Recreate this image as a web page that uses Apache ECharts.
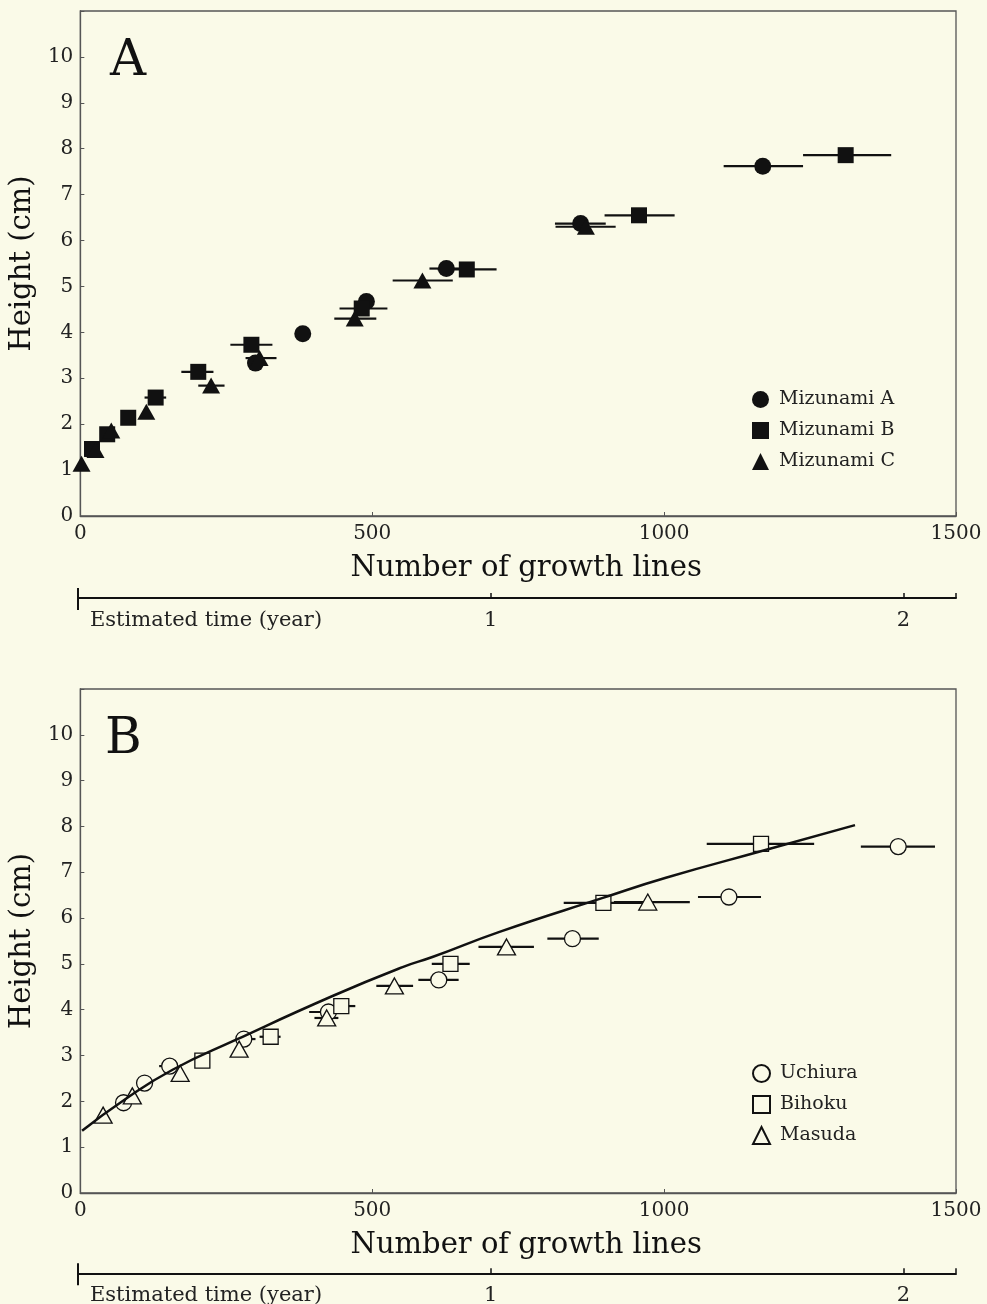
<!DOCTYPE html>
<html>
<head>
<meta charset="utf-8">
<script src="https://cdn.jsdelivr.net/npm/echarts@6/dist/echarts.min.js"></script>
<style>
html,body{margin:0;padding:0;background:#FAFAE8;}
#c{width:987px;height:1304px;}
</style>
</head>
<body>
<div id="c"></div>
<script>
// ---------- tick labels / axis ranges ----------
const xTicks = [0, 500, 1000, 1500];
const yTicks = [0, 1, 2, 3, 4, 5, 6, 7, 8, 9, 10];
const yMax = 11;
const linesPerYear = 705;          // growth lines per estimated year (read from year scale)
const yearTicks = [1, 2];

// ---------- Panel A ----------
const mizA_x  = [300, 381, 490, 627, 857, 1169];
const mizA_y  = [3.33, 3.97, 4.67, 5.39, 6.37, 7.62];
const mizA_lo = [null, null, null, 598, 813, 1102];
const mizA_hi = [null, null, null, 650, 900, 1238];

const mizB_x  = [20, 46, 82, 129, 202, 293, 482, 662, 957, 1311];
const mizB_y  = [1.46, 1.78, 2.14, 2.58, 3.14, 3.73, 4.52, 5.37, 6.55, 7.86];
const mizB_lo = [null, null, null, 110, 173, 257, 444, 612, 898, 1238];
const mizB_hi = [null, null, null, 147, 228, 329, 526, 713, 1018, 1389];

const mizC_x  = [2, 26, 53, 113, 224, 307, 470, 586, 866];
const mizC_y  = [1.14, 1.44, 1.86, 2.27, 2.84, 3.44, 4.30, 5.13, 6.30];
const mizC_lo = [null, null, null, null, 202, 283, 435, 535, 814];
const mizC_hi = [null, null, null, null, 247, 336, 507, 638, 917];

// ---------- Panel B ----------
const uch_x  = [74, 110, 153, 280, 425, 614, 843, 1111, 1401];
const uch_y  = [1.97, 2.40, 2.77, 3.36, 3.95, 4.65, 5.55, 6.46, 7.56];
const uch_lo = [null, null, 135, 280, 392, 579, 800, 1058, 1337];
const uch_hi = [null, null, 153, 300, 455, 648, 888, 1166, 1464];

const bih_x  = [209, 326, 447, 634, 896, 1166];
const bih_y  = [2.89, 3.41, 4.08, 5.00, 6.33, 7.62];
const bih_lo = [null, 307, 430, 602, 828, 1073];
const bih_hi = [null, 343, 471, 667, 962, 1257];

const mas_x  = [39, 89, 171, 272, 422, 538, 730, 972];
const mas_y  = [1.70, 2.12, 2.61, 3.14, 3.82, 4.52, 5.37, 6.35];
const mas_lo = [null, null, null, null, 401, 507, 682, 914];
const mas_hi = [null, null, null, null, 442, 570, 777, 1044];

const curve_x = [3, 75, 158, 266, 432, 552, 603, 718, 895, 1003, 1175, 1327];
const curve_y = [1.36, 2.03, 2.69, 3.34, 4.30, 4.93, 5.15, 5.70, 6.44, 6.88, 7.49, 8.03];

// ---------- helpers ----------
const BG = '#FAFAE8';
const INK = '#111';
const FONT = 'DejaVu Serif';
const pts = (xs, ys) => xs.map((x, i) => [x, ys[i]]);
const bars = (lo, hi, ys) => lo.map((l, i) => l == null ? null : [l, hi[i], ys[i]]).filter(d => d);
function errRender(params, api) {
  const y = api.value(2);
  const p1 = api.coord([api.value(0), y]);
  const p2 = api.coord([api.value(1), y]);
  return {type: 'line', shape: {x1: p1[0], y1: p1[1], x2: p2[0], y2: p2[1]},
          style: {stroke: INK, lineWidth: 2.2}};
}
function errSeries(lo, hi, ys, idx) {
  return {type: 'custom', xAxisIndex: idx, yAxisIndex: idx, renderItem: errRender,
          encode: {x: [0, 1], y: 2}, data: bars(lo, hi, ys), z: 2, silent: true};
}

const xMin = xTicks[0], xMax = xTicks[xTicks.length - 1], xInt = xTicks[1] - xTicks[0];

function mainX(idx) {
  return {type: 'value', gridIndex: idx, min: xMin, max: xMax, interval: xInt,
    name: 'Number of growth lines', nameLocation: 'middle', nameGap: 38,
    nameTextStyle: {fontFamily: FONT, fontSize: 29, color: INK, padding: [0, 0, 0, 16]},
    axisLine: {lineStyle: {color: '#555', width: 1.3}},
    axisTick: {inside: true, length: 4, lineStyle: {color: '#555'}},
    axisLabel: {fontFamily: FONT, fontSize: 20, color: '#222', margin: 8,
      formatter: v => String(v)},
    splitLine: {show: false}};
}
function mainY(idx) {
  return {type: 'value', gridIndex: idx, min: yTicks[0], max: yMax, interval: 1,
    name: 'Height (cm)', nameLocation: 'middle', nameGap: 37,
    nameTextStyle: {fontFamily: FONT, fontSize: 29, color: INK},
    axisLine: {lineStyle: {color: '#555', width: 1.3}},
    axisTick: {inside: true, length: 4, lineStyle: {color: '#555'}},
    axisLabel: {fontFamily: FONT, fontSize: 20, color: '#222', margin: 7,
      formatter: v => yTicks.indexOf(v) >= 0 ? String(v) : ''},
    splitLine: {show: false}};
}
const maxYears = xMax / linesPerYear;
function timeX(idx) {
  return {type: 'value', gridIndex: idx, min: 0, max: maxYears, interval: 1,
    axisLine: {lineStyle: {color: INK, width: 2}},
    axisTick: {inside: true, length: 5, lineStyle: {color: INK, width: 1.5}},
    axisLabel: {fontFamily: FONT, fontSize: 21, color: '#222', margin: 12,
      alignMinLabel: 'left',
      formatter: v => v === 0 ? '{s|Estimated time (year)}' : (yearTicks.indexOf(v) >= 0 ? String(v) : ''),
      rich: {s: {fontFamily: FONT, fontSize: 21, color: '#222', padding: [0, 0, 0, 12]}}},
    splitLine: {show: false}};
}
function hiddenY(idx) {
  return {type: 'value', gridIndex: idx, min: 0, max: 1, show: false};
}

const filled = {color: INK, opacity: 1};
const open = {color: BG, borderColor: '#111', borderWidth: 1.3, opacity: 1};

const option = {
  backgroundColor: BG,
  animation: false,
  title: [
    {text: 'A', left: 105, top: 32, textStyle: {fontFamily: FONT, fontSize: 50, fontWeight: 'normal', color: INK}},
    {text: 'B', left: 100, top: 710, textStyle: {fontFamily: FONT, fontSize: 50, fontWeight: 'normal', color: INK}}
  ],
  grid: [
    {left: 78, top: 11, width: 878, height: 505, show: true, borderColor: '#555', borderWidth: 1.3, backgroundColor: 'transparent'},
    {left: 78, top: 689, width: 878, height: 504, show: true, borderColor: '#555', borderWidth: 1.3, backgroundColor: 'transparent'},
    {left: 78, top: 597, width: 878, height: 1},
    {left: 78, top: 1273, width: 878, height: 1}
  ],
  xAxis: [mainX(0), mainX(1), timeX(2), timeX(3)],
  yAxis: [mainY(0), mainY(1), hiddenY(2), hiddenY(3)],
  legend: [
    {data: ['Mizunami A', 'Mizunami B', 'Mizunami C'], orient: 'vertical', left: 747, top: 385,
     itemWidth: 17, itemHeight: 17, itemGap: 12,
     textStyle: {fontFamily: FONT, fontSize: 19, color: '#222', padding: [0, 0, 0, 5]}},
    {data: ['Uchiura', 'Bihoku', 'Masuda'], orient: 'vertical', left: 747, top: 1059,
     itemWidth: 17, itemHeight: 17, itemGap: 12,
     textStyle: {fontFamily: FONT, fontSize: 19, color: '#222', padding: [0, 0, 0, 5]}}
  ],
  series: [
    errSeries(mizA_lo, mizA_hi, mizA_y, 0),
    errSeries(mizB_lo, mizB_hi, mizB_y, 0),
    errSeries(mizC_lo, mizC_hi, mizC_y, 0),
    {name: 'Mizunami A', type: 'scatter', xAxisIndex: 0, yAxisIndex: 0, symbol: 'circle', symbolSize: 17,
     itemStyle: filled, data: pts(mizA_x, mizA_y), z: 3},
    {name: 'Mizunami B', type: 'scatter', xAxisIndex: 0, yAxisIndex: 0, symbol: 'rect', symbolSize: 16,
     itemStyle: filled, data: pts(mizB_x, mizB_y), z: 3},
    {name: 'Mizunami C', type: 'scatter', xAxisIndex: 0, yAxisIndex: 0, symbol: 'triangle', symbolSize: [18, 16],
     itemStyle: filled, data: pts(mizC_x, mizC_y), z: 3},

    {type: 'line', xAxisIndex: 1, yAxisIndex: 1, data: pts(curve_x, curve_y), smooth: true,
     showSymbol: false, lineStyle: {color: INK, width: 2.5}, z: 5, silent: true},
    errSeries(uch_lo, uch_hi, uch_y, 1),
    errSeries(bih_lo, bih_hi, bih_y, 1),
    errSeries(mas_lo, mas_hi, mas_y, 1),
    {name: 'Uchiura', type: 'scatter', xAxisIndex: 1, yAxisIndex: 1, symbol: 'circle', symbolSize: 16,
     itemStyle: open, data: pts(uch_x, uch_y), z: 3},
    {name: 'Bihoku', type: 'scatter', xAxisIndex: 1, yAxisIndex: 1, symbol: 'rect', symbolSize: 15,
     itemStyle: open, data: pts(bih_x, bih_y), z: 3},
    {name: 'Masuda', type: 'scatter', xAxisIndex: 1, yAxisIndex: 1, symbol: 'triangle', symbolSize: [18, 16],
     itemStyle: open, data: pts(mas_x, mas_y), z: 3},
    // empty series so the time-scale grids have a coordinate system
    {type: 'line', xAxisIndex: 2, yAxisIndex: 2, data: [], silent: true},
    {type: 'line', xAxisIndex: 3, yAxisIndex: 3, data: [], silent: true}
  ]
};

const chart = echarts.init(document.getElementById('c'), null, {renderer: 'canvas'});
chart.setOption(option);

// long start tick on each time scale
const g = [];
[2, 3].forEach(i => {
  const p = chart.convertToPixel({xAxisIndex: i, yAxisIndex: i}, [0, 0]);
  g.push({type: 'line', shape: {x1: p[0], y1: p[1] - 10, x2: p[0], y2: p[1] + 12},
          style: {stroke: INK, lineWidth: 2}, z: 10});
});
chart.setOption({graphic: g});
</script>
</body>
</html>
